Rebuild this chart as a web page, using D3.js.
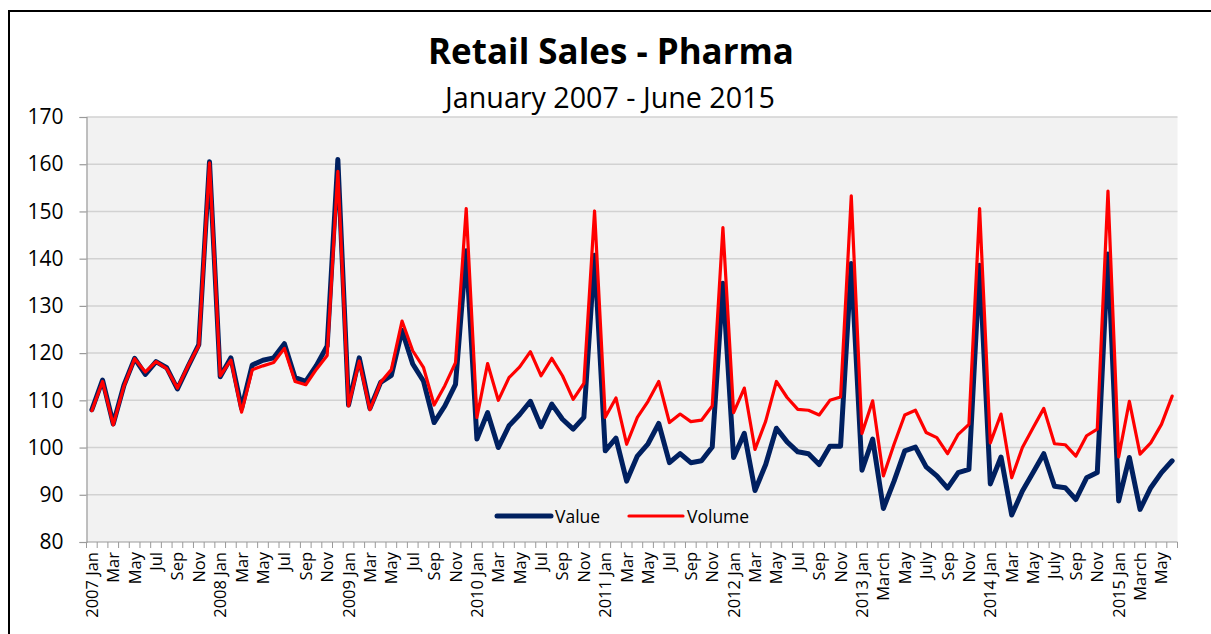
<!DOCTYPE html>
<html>
<head>
<meta charset="utf-8">
<script src="https://cdn.jsdelivr.net/npm/d3@7"></script>
<style>
  body { margin: 0; background: #fff; }
  svg { display: block; font-family: "Open Sans", sans-serif; }
</style>
</head>
<body>
<svg width="1211" height="634"></svg>
<script>
// monthly, Jan 2007 - Jun 2015
var valueSeries = [
  108, 114.3, 105, 113.2, 118.9, 115.5, 118.2, 116.9, 112.4, 117.2, 121.8, 160.5,
  115, 119, 108.3, 117.5, 118.5, 119, 122, 114.8, 114, 117.4, 121.5, 161,
  109, 119, 108.3, 113.8, 115.3, 124.8, 117.7, 114.1, 105.3, 108.8, 113.4, 141.7,
  101.8, 107.4, 100, 104.6, 107, 109.8, 104.4, 109.2, 106, 103.9, 106.4, 140.7,
  99.3, 102, 92.9, 98.2, 100.8, 105.1, 96.8, 98.7, 96.8, 97.2, 100.1, 134.8,
  97.9, 103, 90.9, 96.4, 104.1, 101.2, 99.1, 98.7, 96.4, 100.3, 100.3, 139,
  95.2, 101.8, 87.1, 92.9, 99.3, 100.1, 95.9, 94, 91.4, 94.7, 95.4, 138.6,
  92.3, 98, 85.7, 90.8, 94.7, 98.7, 91.8, 91.5, 89, 93.6, 94.7, 141,
  88.7, 97.9, 86.9, 91.5, 94.7, 97.2
];
var volumeSeries = [
  107.8, 114, 104.8, 113, 118.8, 116, 118.2, 116.7, 112.6, 117.3, 121.6, 160.3,
  115.2, 118.5, 107.5, 116.5, 117.3, 118, 121, 114, 113.3, 116.6, 119.5, 158.5,
  108.8, 118.3, 108, 113.8, 116.5, 126.8, 120.5, 117, 109, 113.1, 118, 150.6,
  106.4, 117.8, 110, 114.8, 117.1, 120.3, 115.2, 118.9, 115.2, 110.2, 113.6, 150.1,
  106.4, 110.5, 100.7, 106.4, 109.8, 114, 105.3, 107.1, 105.5, 105.8, 108.8, 146.6,
  107.4, 112.6, 99.6, 105.6, 114, 110.6, 108.1, 107.9, 106.9, 110, 110.7, 153.3,
  103, 109.9, 94, 100.7, 106.9, 107.9, 103.2, 102.1, 98.7, 102.8, 104.9, 150.6,
  101, 107.1, 93.6, 100, 104.2, 108.3, 100.8, 100.6, 98.2, 102.5, 103.9, 154.3,
  98, 109.8, 98.6, 101, 104.9, 110.9
];
var years = [2007, 2008, 2009, 2010, 2011, 2012, 2013, 2014, 2015];
var monthNames = ["Jan", "Feb", "Mar", "Apr", "May", "Jun", "Jul", "Aug", "Sep", "Oct", "Nov", "Dec"];
// labels the source uses where they differ from the short names
var labelOverrides = { "2013-2": "March", "2013-6": "July", "2014-6": "July", "2015-2": "March" };
var yTicks = [80, 90, 100, 110, 120, 130, 140, 150, 160, 170];
var seriesNames = ["Value", "Volume"];
var seriesColors = ["#002060", "#ff0000"];

var svg = d3.select("svg");
var plot = { left: 86.5, top: 117, right: 1177.5, bottom: 542 };

// build category list
var categories = [];
valueSeries.forEach(function(v, i) {
  var yr = years[Math.floor(i / 12)], m = i % 12;
  var label = "";
  if (m % 2 == 0) {
    label = labelOverrides[yr + "-" + m] || monthNames[m];
    if (m == 0) label = yr + " Jan";
  }
  categories.push({ key: i, label: label });
});

// outer frame
svg.append("path")
  .attr("d", "M9,640 L9,11 L1215,11")
  .attr("fill", "none")
  .attr("stroke", "#000")
  .attr("stroke-width", 2);

var x = d3.scaleBand().domain(categories.map(function(d){ return d.key; }))
  .range([plot.left, plot.right]);
var y = d3.scaleLinear().domain([80, 170]).range([plot.bottom, plot.top]);

svg.append("rect")
  .attr("x", plot.left).attr("y", plot.top)
  .attr("width", plot.right - plot.left).attr("height", plot.bottom - plot.top)
  .attr("fill", "#f2f2f2");

// gridlines
svg.append("g").selectAll("line")
  .data(yTicks.filter(function(t){ return t > 80; }))
  .enter().append("line")
  .attr("x1", plot.left).attr("x2", plot.right)
  .attr("y1", function(d){ return y(d); }).attr("y2", function(d){ return y(d); })
  .attr("stroke", "#d2d2d2").attr("stroke-width", 1.5);

// y axis
var yAxis = d3.axisLeft(y).tickValues(yTicks).tickSize(7).tickPadding(16);
var gY = svg.append("g").attr("transform", "translate(" + plot.left + ",0)").call(yAxis);
gY.select(".domain").attr("stroke", "#9a9a9a").attr("stroke-width", 1.2);
gY.selectAll(".tick line").attr("stroke", "#9a9a9a").attr("stroke-width", 1.2);
gY.selectAll("text").attr("font-size", 21).attr("fill", "#000").attr("font-family", "'Open Sans', sans-serif");

// x axis line + ticks on category boundaries
var gX = svg.append("g");
gX.append("line")
  .attr("x1", plot.left).attr("x2", plot.right)
  .attr("y1", plot.bottom).attr("y2", plot.bottom)
  .attr("stroke", "#9a9a9a").attr("stroke-width", 1.2);
gX.selectAll("line.tk")
  .data(categories.map(function(d){ return x(d.key); }).concat([plot.right]))
  .enter().append("line").attr("class", "tk")
  .attr("x1", function(d){ return d; }).attr("x2", function(d){ return d; })
  .attr("y1", plot.bottom).attr("y2", plot.bottom + 6)
  .attr("stroke", "#9a9a9a").attr("stroke-width", 1);
gX.selectAll("text")
  .data(categories.filter(function(d){ return d.label != ""; }))
  .enter().append("text")
  .attr("transform", function(d){
    return "translate(" + (x(d.key) + x.bandwidth() / 2 + 6) + "," + (plot.bottom + 10) + ") rotate(-90)";
  })
  .attr("text-anchor", "end")
  .attr("font-size", 16.5)
  .text(function(d){ return d.label; });

// lines
var line = d3.line()
  .x(function(d, i){ return x(i) + x.bandwidth() / 2; })
  .y(function(d){ return y(d); });

svg.append("path").datum(valueSeries)
  .attr("d", line).attr("fill", "none")
  .attr("stroke", seriesColors[0]).attr("stroke-width", 5)
  .attr("stroke-linejoin", "round").attr("stroke-linecap", "round");
svg.append("path").datum(volumeSeries)
  .attr("d", line).attr("fill", "none")
  .attr("stroke", seriesColors[1]).attr("stroke-width", 3.2)
  .attr("stroke-linejoin", "round").attr("stroke-linecap", "round");

// title, sized to the width it has in the source
function fitText(sel, base, target) {
  sel.attr("font-size", base);
  var w = sel.node().getComputedTextLength();
  sel.attr("font-size", base * target / w);
}
var title = svg.append("text").attr("x", 611).attr("y", 64)
  .attr("text-anchor", "middle").attr("font-weight", "bold")
  .text("Retail Sales - Pharma");
fitText(title, 31, 366);
var subtitle = svg.append("text").attr("x", 610).attr("y", 108)
  .attr("text-anchor", "middle")
  .text("January 2007 - June 2015");
fitText(subtitle, 24, 330);

// legend
var legendX = [497, 629];
var legend = svg.append("g").selectAll("g")
  .data(seriesNames).enter().append("g")
  .attr("transform", function(d, i){ return "translate(" + legendX[i] + ",516)"; });
legend.append("line")
  .attr("x1", 0).attr("x2", 54).attr("y1", 0).attr("y2", 0)
  .attr("stroke", function(d, i){ return seriesColors[i]; })
  .attr("stroke-width", function(d, i){ return i == 0 ? 5 : 3.2; })
  .attr("stroke-linecap", "round");
legend.append("text")
  .attr("x", 58).attr("y", 6.5)
  .attr("font-size", 17.5)
  .text(function(d){ return d; });
</script>
</body>
</html>
